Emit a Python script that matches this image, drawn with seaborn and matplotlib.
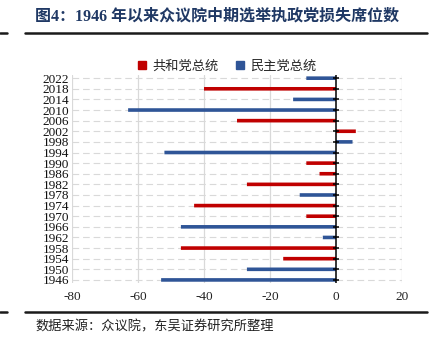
import matplotlib
matplotlib.use("Agg")
import matplotlib.pyplot as plt
import seaborn as sns
import pandas as pd
from matplotlib.lines import Line2D

years = ["2022", "2018", "2014", "2010", "2006", "2002", "1998", "1994", "1990", "1986",
         "1982", "1978", "1974", "1970", "1966", "1962", "1958", "1954", "1950", "1946"]
seats = [-9, -40, -13, -63, -30, 6, 5, -52, -9, -5,
         -27, -11, -43, -9, -47, -4, -47, -16, -27, -53]
party = ["民主党总统", "共和党总统", "民主党总统", "民主党总统", "共和党总统", "共和党总统",
         "民主党总统", "民主党总统", "共和党总统", "共和党总统", "共和党总统", "民主党总统",
         "共和党总统", "共和党总统", "民主党总统", "民主党总统", "共和党总统", "共和党总统",
         "民主党总统", "民主党总统"]
hue_order = ["共和党总统", "民主党总统"]
colors = {"共和党总统": "#C00000", "民主党总统": "#2F5597"}
xticks = [-80, -60, -40, -20, 0, 20]

title = "图4：1946 年以来众议院中期选举执政党损失席位数"
source = "数据来源：众议院，东吴证券研究所整理"

df = pd.DataFrame({"year": years, "seats": seats, "party": party})

sns.set_theme(style="white")
plt.rcParams["font.family"] = ["Liberation Serif", "Noto Sans CJK SC"]
plt.rcParams["axes.unicode_minus"] = False

fig = plt.figure(figsize=(4.32, 3.44), dpi=100)
ax = fig.add_axes([0.1667, 0.177, 0.7639, 0.605])

sns.barplot(data=df, y="year", x="seats", hue="party", order=years, hue_order=hue_order,
            palette=colors, dodge=False, orient="h", width=0.34, ax=ax, legend=False,
            zorder=3, saturation=1)
for p in ax.patches:
    p.set_snap(False)
    p.set_linewidth(0)

ax.set_xlim(-80, 20)
ax.set_ylim(len(years) - 0.7, -0.3)
ax.set_xticks(xticks)
ax.set_xticklabels([str(v) for v in xticks], fontsize=9.5, color="#222222")
ax.set_yticks(range(len(years)))
ax.set_yticklabels(years, fontsize=9.5, color="#111111")
ax.tick_params(axis="both", length=0, pad=2)
ax.tick_params(axis="x", pad=6)
ax.set_xlabel("")
ax.set_ylabel("")
for s in ax.spines.values():
    s.set_visible(False)

for x in xticks:
    if x != 0:
        ax.axvline(x, color="#D9D9D9", lw=0.9, zorder=0)
for i in range(len(years)):
    ax.axhline(i, color="#D9D9D9", lw=0.8, ls=(0, (6, 3.5)), zorder=0)

ax.axvline(0, color="black", lw=1.1, zorder=4)
ax.plot([0] * len(years), range(len(years)), ls="none", marker="_", ms=5, mew=1.1,
        color="black", zorder=4)

handles = [Line2D([], [], ls="none", marker="s", ms=6, color=colors[p]) for p in hue_order]
fig.legend(handles, hue_order, loc="center", bbox_to_anchor=(0.525, 0.808), ncol=2,
           frameon=False, handlelength=0.8, handletextpad=0.4, columnspacing=1.2,
           prop={"family": ["Noto Sans CJK SC"], "size": 9.5})

fig.text(0.081, 0.951, title, fontsize=11.5, fontweight="bold", color="#1F3864",
         va="center", ha="left", family=["Liberation Serif", "Noto Sans CJK SC"])
fig.add_artist(Line2D([0.058, 0.988], [0.904, 0.904], color="#1a1a1a", lw=1.8))
fig.add_artist(Line2D([0.0, 0.016], [0.904, 0.904], color="#1a1a1a", lw=1.8))
fig.add_artist(Line2D([0.058, 0.988], [0.093, 0.093], color="#1a1a1a", lw=1.8))
fig.add_artist(Line2D([0.0, 0.016], [0.093, 0.093], color="#1a1a1a", lw=1.8))
fig.text(0.081, 0.05, source, fontsize=9.5, color="#222222", va="center", ha="left",
         family=["Noto Sans CJK SC"])

fig.savefig("out.png", dpi=100)
